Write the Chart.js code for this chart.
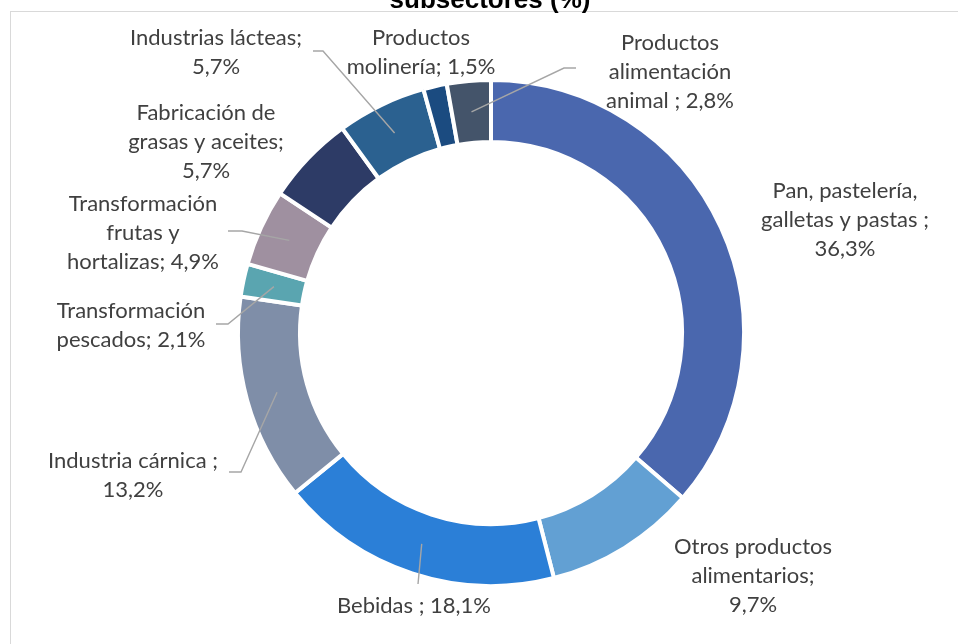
<!DOCTYPE html>
<html lang="es">
<head>
    <meta charset="UTF-8">
    <title>Subsectores (%)</title>
    <style>
        html, body {
            margin: 0;
            padding: 0;
            background: #ffffff;
        }
        .wrap {
            position: relative;
            width: 958px;
            height: 644px;
        }
    </style>
</head>
<body>
    <div class="wrap">
        <canvas id="donut"></canvas>
    </div>

    <script src="https://cdn.jsdelivr.net/npm/chart.js"></script>
    <script>
        // datos
        const categories = [
            'Pan, pastelería, galletas y pastas',
            'Otros productos alimentarios',
            'Bebidas',
            'Industria cárnica',
            'Transformación pescados',
            'Transformación frutas y hortalizas',
            'Fabricación de grasas y aceites',
            'Industrias lácteas',
            'Productos molinería',
            'Productos alimentación animal'
        ];
        const shares = [36.3, 9.7, 18.1, 13.2, 2.1, 4.9, 5.7, 5.7, 1.5, 2.8];
        // texto de etiquetas, {v} = valor
        const labelTexts = [
            'Pan, pastelería,|galletas y pastas ;|{v}',
            'Otros productos|alimentarios;|{v}',
            'Bebidas ; {v}',
            'Industria cárnica ;|{v}',
            'Transformación|pescados; {v}',
            'Transformación|frutas y|hortalizas; {v}',
            'Fabricación de|grasas y aceites;|{v}',
            'Industrias lácteas;|{v}',
            'Productos|molinería; {v}',
            'Productos|alimentación|animal ; {v}'
        ];
        const colors = ['#4a67ae', '#62a0d3', '#2b7fd7', '#7f8ea8', '#5aa5b0',
                        '#9f90a0', '#2d3b66', '#2b6190', '#1b4b80', '#44546a'];

        // posicion de etiquetas (centro, primera linea) y codo de la linea guia
        const labelPos = [
            { x: 845, y: 191 },
            { x: 753, y: 547 },
            { x: 414, y: 606 },
            { x: 133, y: 461 },
            { x: 131, y: 311 },
            { x: 143, y: 204 },
            { x: 206, y: 113 },
            { x: 216, y: 38 },
            { x: 421, y: 38 },
            { x: 670, y: 43 }
        ];
        const leaders = [
            null, null,
            [[418, 584], [418, 584]],
            [[229, 472], [241, 472]],
            [[216, 324], [228, 324]],
            [[228, 231], [242, 231]],
            null,
            [[313, 51], [323, 51]],
            null,
            [[576, 68], [564, 68]]
        ];

        const fmt = v => v.toFixed(1).replace('.', ',') + '%';

        const labelPlugin = {
            id: 'labelPlugin',
            afterDraw(chart) {
                const ctx = chart.ctx;
                const arcs = chart.getDatasetMeta(0).data;
                ctx.save();

                // marco
                ctx.strokeStyle = '#d9d9d9';
                ctx.lineWidth = 1;
                ctx.strokeRect(10.5, 11.5, 1000, 1000);

                // titulo (recortado arriba)
                ctx.fillStyle = '#000000';
                ctx.font = 'bold 26px "Liberation Sans", Arial, sans-serif';
                ctx.textAlign = 'center';
                ctx.textBaseline = 'alphabetic';
                ctx.fillText('subsectores (%)', 490, 8);

                // lineas guia
                ctx.strokeStyle = '#a6a6a6';
                ctx.lineWidth = 1.4;
                arcs.forEach((arc, i) => {
                    const ld = leaders[i];
                    if (!ld) return;
                    const p = arc.getProps(['x', 'y', 'startAngle', 'endAngle', 'innerRadius', 'outerRadius'], true);
                    const a = (p.startAngle + p.endAngle) / 2;
                    const r = (p.innerRadius + p.outerRadius) / 2;
                    ctx.beginPath();
                    ctx.moveTo(ld[0][0], ld[0][1]);
                    ctx.lineTo(ld[1][0], ld[1][1]);
                    ctx.lineTo(p.x + r * Math.cos(a), p.y + r * Math.sin(a));
                    ctx.stroke();
                });

                // etiquetas
                ctx.fillStyle = '#404040';
                ctx.font = '22px Lato, "Open Sans", sans-serif';
                ctx.textBaseline = 'middle';
                labelTexts.forEach((t, i) => {
                    const lines = t.replace('{v}', fmt(shares[i])).split('|');
                    lines.forEach((ln, k) => {
                        ctx.fillText(ln, labelPos[i].x, labelPos[i].y + k * 29);
                    });
                });
                ctx.restore();
            }
        };

        new Chart(document.getElementById('donut'), {
            type: 'doughnut',
            data: {
                labels: categories,
                datasets: [{
                    data: shares,
                    backgroundColor: colors,
                    borderColor: '#ffffff',
                    borderWidth: 4
                }]
            },
            options: {
                responsive: true,
                maintainAspectRatio: false,
                animation: false,
                cutout: '75.5%',
                layout: {
                    padding: { top: 78, bottom: 56, left: 236, right: 212 }
                },
                plugins: {
                    legend: { display: false },
                    tooltip: { enabled: false }
                }
            },
            plugins: [labelPlugin]
        });
    </script>
</body>
</html>
